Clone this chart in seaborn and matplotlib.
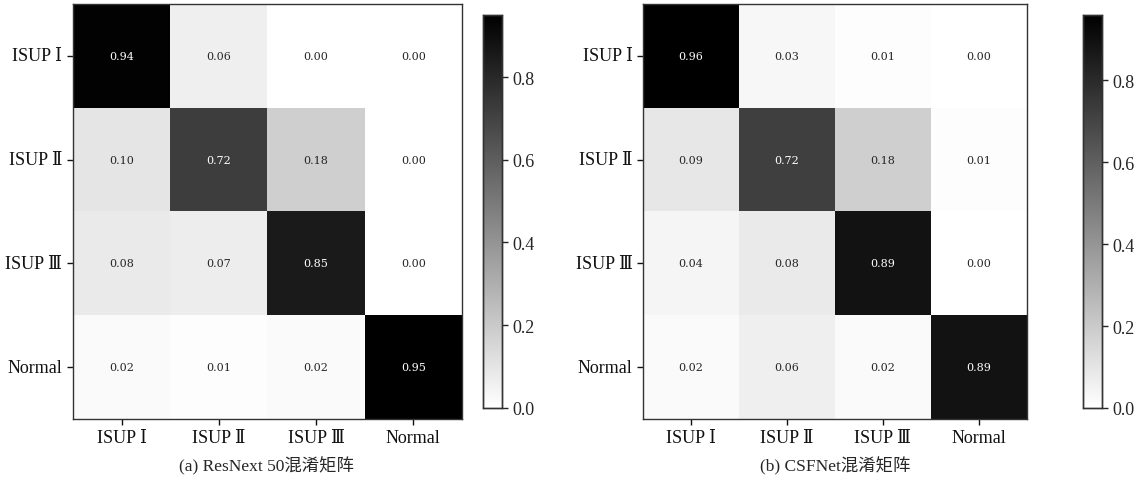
import numpy as np
import matplotlib
matplotlib.use("Agg")
import matplotlib.pyplot as plt
import seaborn as sns

labels = ["ISUP Ⅰ", "ISUP Ⅱ", "ISUP Ⅲ", "Normal"]
resnext = [[0.94, 0.06, 0.00, 0.00],
           [0.10, 0.72, 0.18, 0.00],
           [0.08, 0.07, 0.85, 0.00],
           [0.02, 0.01, 0.02, 0.95]]
csfnet = [[0.96, 0.03, 0.01, 0.00],
          [0.09, 0.72, 0.18, 0.01],
          [0.04, 0.08, 0.89, 0.00],
          [0.02, 0.06, 0.02, 0.89]]
titles = ["(a) ResNext 50混淆矩阵", "(b) CSFNet混淆矩阵"]

sns.set_style("white")
fam = ["Liberation Serif", "DejaVu Serif", "Noto Sans CJK SC"]
plt.rcParams["font.family"] = fam

fig = plt.figure(figsize=(11.39, 4.85), dpi=100)
ax_pos = [[0.064, 0.134, 0.3415, 0.856], [0.5645, 0.134, 0.337, 0.856]]
cb_pos = [[0.424, 0.157, 0.0167, 0.810], [0.951, 0.157, 0.0167, 0.810]]
title_x = [0.234, 0.733]

for i, data in enumerate([resnext, csfnet]):
    ax = fig.add_axes(ax_pos[i])
    cax = fig.add_axes(cb_pos[i])
    arr = np.array(data)
    sns.heatmap(arr, ax=ax, cbar_ax=cax, cmap="binary", vmin=0, vmax=arr.max(),
                annot=True, fmt=".2f",
                annot_kws={"size": 8, "family": "DejaVu Serif"},
                xticklabels=labels, yticklabels=labels, square=False)
    ax.tick_params(axis="both", which="both", length=4, width=1, bottom=True, left=True,
                   labelsize=13, colors="#111111")
    ax.set_yticklabels(labels, rotation=0, fontsize=13)
    ax.set_xticklabels(labels, rotation=0, fontsize=13)
    for s in ax.spines.values():
        s.set_visible(True)
        s.set_linewidth(1.0)
        s.set_color("#333333")
    cax.tick_params(labelsize=13, length=4, width=1, right=True)
    cax.set_yticks([0.0, 0.2, 0.4, 0.6, 0.8])
    cax.set_yticklabels(["0.0", "0.2", "0.4", "0.6", "0.8"])
    for s in cax.spines.values():
        s.set_visible(True)
        s.set_linewidth(1.0)
        s.set_color("#333333")
    fig.text(title_x[i], 0.039, titles[i], ha="center", va="center", fontsize=12.5)

fig.savefig("out.png", dpi=100)
